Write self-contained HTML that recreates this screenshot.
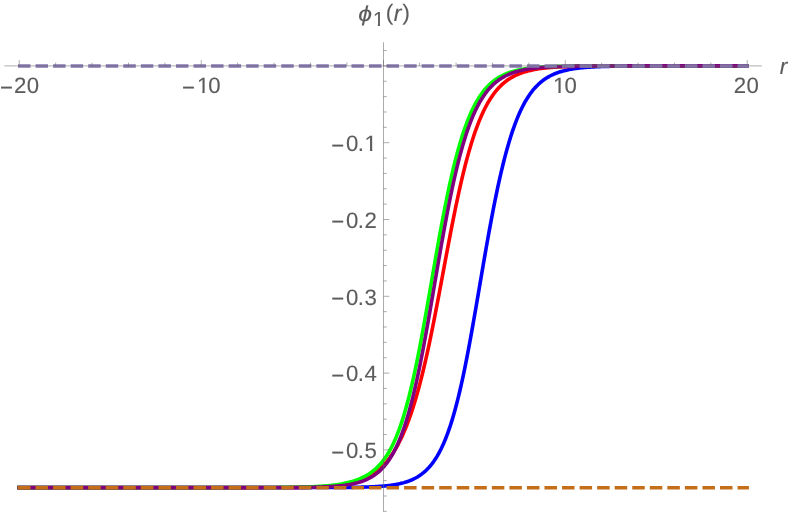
<!DOCTYPE html>
<html><head><meta charset="utf-8"><title>plot</title>
<style>
html,body{margin:0;padding:0;background:#fff;}
body{width:790px;height:514px;overflow:hidden;font-family:"Liberation Sans",sans-serif;}
svg{display:block;will-change:transform;}
text{text-rendering:geometricPrecision;}
</style></head><body>
<svg width="790" height="514" viewBox="0 0 790 514">
<rect width="790" height="514" fill="#fff"/>
<path d="M19.20,487.60 L64.44,487.60 L65.36,487.60 L66.29,487.60 L67.22,487.60 L68.14,487.60 L69.07,487.60 L69.99,487.60 L70.92,487.60 L71.84,487.60 L72.77,487.60 L73.69,487.60 L74.62,487.60 L75.54,487.60 L76.47,487.60 L77.39,487.60 L78.32,487.60 L79.24,487.60 L80.17,487.60 L81.10,487.60 L82.02,487.60 L82.95,487.60 L83.87,487.60 L84.80,487.60 L85.72,487.60 L86.65,487.60 L87.57,487.60 L88.50,487.60 L89.42,487.60 L90.35,487.60 L91.27,487.60 L92.20,487.60 L93.12,487.60 L94.05,487.60 L94.98,487.60 L95.90,487.60 L96.83,487.60 L97.75,487.60 L98.68,487.60 L99.60,487.60 L100.53,487.60 L101.45,487.60 L102.38,487.60 L103.30,487.60 L104.23,487.60 L105.15,487.60 L106.08,487.60 L107.00,487.60 L107.93,487.60 L108.86,487.60 L109.78,487.60 L110.71,487.60 L111.63,487.60 L112.56,487.60 L113.48,487.60 L114.41,487.60 L115.33,487.60 L116.26,487.60 L117.18,487.60 L118.11,487.60 L119.03,487.60 L119.96,487.60 L120.88,487.60 L121.81,487.60 L122.74,487.60 L123.66,487.60 L124.59,487.60 L125.51,487.60 L126.44,487.60 L127.36,487.60 L128.29,487.60 L129.21,487.60 L130.14,487.60 L131.06,487.60 L131.99,487.60 L132.91,487.60 L133.84,487.60 L134.76,487.60 L135.69,487.60 L136.62,487.60 L137.54,487.60 L138.47,487.60 L139.39,487.60 L140.32,487.60 L141.24,487.60 L142.17,487.60 L143.09,487.60 L144.02,487.60 L144.94,487.60 L145.87,487.60 L146.79,487.60 L147.72,487.60 L148.64,487.60 L149.57,487.60 L150.50,487.60 L151.42,487.60 L152.35,487.60 L153.27,487.60 L154.20,487.60 L155.12,487.60 L156.05,487.60 L156.97,487.60 L157.90,487.60 L158.82,487.60 L159.75,487.60 L160.67,487.60 L161.60,487.60 L162.52,487.60 L163.45,487.60 L164.38,487.60 L165.30,487.60 L166.23,487.60 L167.15,487.60 L168.08,487.60 L169.00,487.60 L169.93,487.60 L170.85,487.60 L171.78,487.60 L172.70,487.60 L173.63,487.60 L174.55,487.60 L175.48,487.60 L176.40,487.60 L177.33,487.60 L178.26,487.60 L179.18,487.60 L180.11,487.60 L181.03,487.60 L181.96,487.60 L182.88,487.60 L183.81,487.60 L184.73,487.60 L185.66,487.60 L186.58,487.60 L187.51,487.60 L188.43,487.60 L189.36,487.60 L190.28,487.60 L191.21,487.60 L192.14,487.60 L193.06,487.60 L193.99,487.60 L194.91,487.60 L195.84,487.60 L196.76,487.60 L197.69,487.60 L198.61,487.60 L199.54,487.60 L200.46,487.60 L201.39,487.60 L202.31,487.60 L203.24,487.60 L204.16,487.60 L205.09,487.60 L206.02,487.60 L206.94,487.60 L207.87,487.60 L208.79,487.60 L209.72,487.60 L210.64,487.60 L211.57,487.60 L212.49,487.60 L213.42,487.60 L214.34,487.60 L215.27,487.60 L216.19,487.60 L217.12,487.60 L218.04,487.60 L218.97,487.60 L219.90,487.60 L220.82,487.60 L221.75,487.60 L222.67,487.60 L223.60,487.60 L224.52,487.60 L225.45,487.60 L226.37,487.60 L227.30,487.60 L228.22,487.60 L229.15,487.60 L230.07,487.60 L231.00,487.60 L231.92,487.60 L232.85,487.60 L233.78,487.60 L234.70,487.60 L235.63,487.60 L236.55,487.60 L237.48,487.60 L238.40,487.60 L239.33,487.60 L240.25,487.60 L241.18,487.60 L242.10,487.60 L243.03,487.60 L243.95,487.60 L244.88,487.60 L245.80,487.60 L246.73,487.60 L247.66,487.60 L248.58,487.60 L249.51,487.60 L250.43,487.60 L251.36,487.60 L252.28,487.60 L253.21,487.60 L254.13,487.60 L255.06,487.60 L255.98,487.60 L256.91,487.60 L257.83,487.60 L258.76,487.60 L259.68,487.60 L260.61,487.60 L261.54,487.60 L262.46,487.60 L263.39,487.60 L264.31,487.60 L265.24,487.60 L266.16,487.60 L267.09,487.60 L268.01,487.60 L268.94,487.60 L269.86,487.60 L270.79,487.60 L271.71,487.60 L272.64,487.60 L273.56,487.60 L274.49,487.60 L275.42,487.60 L276.34,487.60 L277.27,487.60 L278.19,487.60 L279.12,487.60 L280.04,487.60 L280.97,487.60 L281.89,487.60 L282.82,487.60 L283.74,487.60 L284.67,487.59 L285.59,487.59 L286.52,487.59 L287.44,487.59 L288.37,487.59 L289.30,487.59 L290.22,487.59 L291.15,487.59 L292.07,487.59 L293.00,487.59 L293.92,487.59 L294.85,487.59 L295.77,487.59 L296.70,487.59 L297.62,487.59 L298.55,487.59 L299.47,487.59 L300.40,487.59 L301.32,487.59 L302.25,487.59 L303.18,487.58 L304.10,487.58 L305.03,487.58 L305.95,487.58 L306.88,487.58 L307.80,487.58 L308.73,487.58 L309.65,487.58 L310.58,487.58 L311.50,487.58 L312.43,487.57 L313.35,487.57 L314.28,487.57 L315.20,487.57 L316.13,487.57 L317.06,487.57 L317.98,487.56 L318.91,487.56 L319.83,487.56 L320.76,487.56 L321.68,487.56 L322.61,487.55 L323.53,487.55 L324.46,487.55 L325.38,487.55 L326.31,487.54 L327.23,487.54 L328.16,487.54 L329.08,487.53 L330.01,487.53 L330.94,487.53 L331.86,487.52 L332.79,487.52 L333.71,487.51 L334.64,487.51 L335.56,487.50 L336.49,487.50 L337.41,487.49 L338.34,487.49 L339.26,487.48 L340.19,487.47 L341.11,487.47 L342.04,487.46 L342.96,487.45 L343.89,487.44 L344.82,487.43 L345.74,487.42 L346.67,487.42 L347.59,487.41 L348.52,487.39 L349.44,487.38 L350.37,487.37 L351.29,487.36 L352.22,487.35 L353.14,487.33 L354.07,487.32 L354.99,487.30 L355.92,487.29 L356.84,487.27 L357.77,487.25 L358.70,487.23 L359.62,487.21 L360.55,487.19 L361.47,487.17 L362.40,487.14 L363.32,487.12 L364.25,487.09 L365.17,487.06 L366.10,487.03 L367.02,487.00 L367.95,486.97 L368.87,486.94 L369.80,486.90 L370.72,486.86 L371.65,486.82 L372.58,486.78 L373.50,486.73 L374.43,486.69 L375.35,486.64 L376.28,486.58 L377.20,486.53 L378.13,486.47 L379.05,486.41 L379.98,486.34 L380.90,486.28 L381.83,486.20 L382.75,486.13 L383.68,486.05 L384.60,485.96 L385.53,485.87 L386.46,485.78 L387.38,485.68 L388.31,485.57 L389.23,485.46 L390.16,485.35 L391.08,485.22 L392.01,485.09 L392.93,484.96 L393.86,484.81 L394.78,484.66 L395.71,484.50 L396.63,484.34 L397.56,484.16 L398.48,483.97 L399.41,483.77 L400.34,483.57 L401.26,483.35 L402.19,483.12 L403.11,482.87 L404.04,482.62 L404.96,482.35 L405.89,482.07 L406.81,481.77 L407.74,481.45 L408.66,481.12 L409.59,480.77 L410.51,480.40 L411.44,480.02 L412.36,479.61 L413.29,479.18 L414.22,478.73 L415.14,478.25 L416.07,477.75 L416.99,477.23 L417.92,476.67 L418.84,476.09 L419.77,475.48 L420.69,474.83 L421.62,474.16 L422.54,473.44 L423.47,472.70 L424.39,471.91 L425.32,471.08 L426.25,470.22 L427.17,469.31 L428.10,468.35 L429.02,467.34 L429.95,466.29 L430.87,465.19 L431.80,464.03 L432.72,462.81 L433.65,461.54 L434.57,460.20 L435.50,458.80 L436.42,457.34 L437.35,455.81 L438.28,454.20 L439.20,452.53 L440.13,450.77 L441.05,448.94 L441.98,447.03 L442.90,445.03 L443.83,442.94 L444.75,440.77 L445.68,438.50 L446.61,436.14 L447.53,433.68 L448.46,431.12 L449.38,428.46 L450.31,425.70 L451.24,422.83 L452.16,419.85 L453.09,416.76 L454.02,413.56 L454.94,410.25 L455.87,406.83 L456.80,403.29 L457.72,399.63 L458.65,395.86 L459.58,391.97 L460.51,387.97 L461.44,383.86 L462.37,379.63 L463.30,375.29 L464.23,370.84 L465.16,366.28 L466.09,361.62 L467.03,356.86 L467.96,352.00 L468.89,347.05 L469.83,342.01 L470.77,336.88 L471.71,331.68 L472.65,326.40 L473.59,321.06 L474.53,315.66 L475.48,310.20 L476.43,304.70 L477.38,299.16 L478.33,293.58 L479.28,287.98 L480.24,282.37 L481.20,276.75 L482.16,271.13 L483.12,265.52 L484.09,259.92 L485.06,254.34 L486.03,248.80 L487.00,243.30 L487.97,237.84 L488.95,232.44 L489.93,227.10 L490.91,221.82 L491.89,216.62 L492.87,211.49 L493.85,206.45 L494.84,201.50 L495.83,196.64 L496.81,191.88 L497.80,187.22 L498.79,182.66 L499.78,178.21 L500.77,173.87 L501.76,169.64 L502.75,165.53 L503.74,161.53 L504.73,157.64 L505.72,153.87 L506.72,150.21 L507.71,146.67 L508.70,143.25 L509.70,139.94 L510.69,136.74 L511.68,133.65 L512.68,130.67 L513.67,127.80 L514.66,125.04 L515.66,122.38 L516.65,119.82 L517.65,117.36 L518.64,115.00 L519.63,112.73 L520.63,110.56 L521.62,108.47 L522.62,106.47 L523.61,104.56 L524.61,102.73 L525.60,100.97 L526.60,99.30 L527.59,97.69 L528.58,96.16 L529.58,94.70 L530.57,93.30 L531.57,91.96 L532.56,90.69 L533.56,89.47 L534.55,88.31 L535.55,87.21 L536.54,86.16 L537.54,85.15 L538.53,84.19 L539.53,83.28 L540.52,82.42 L541.51,81.59 L542.51,80.80 L543.50,80.06 L544.50,79.34 L545.49,78.67 L546.49,78.02 L547.48,77.41 L548.48,76.83 L549.47,76.27 L550.47,75.75 L551.46,75.25 L552.46,74.77 L553.45,74.32 L554.44,73.89 L555.44,73.48 L556.43,73.10 L557.43,72.73 L558.42,72.38 L559.42,72.05 L560.41,71.73 L561.41,71.43 L562.40,71.15 L563.40,70.88 L564.39,70.63 L565.39,70.38 L566.38,70.15 L567.38,69.93 L568.37,69.73 L569.36,69.53 L570.36,69.34 L571.35,69.16 L572.35,69.00 L573.34,68.84 L574.34,68.69 L575.33,68.54 L576.33,68.41 L577.32,68.28 L578.32,68.15 L579.31,68.04 L580.31,67.93 L581.30,67.82 L582.30,67.72 L583.29,67.63 L584.28,67.54 L585.28,67.45 L586.27,67.37 L587.27,67.30 L588.26,67.22 L589.26,67.16 L590.25,67.09 L591.25,67.03 L592.24,66.97 L593.24,66.92 L594.23,66.86 L595.23,66.81 L596.22,66.77 L597.22,66.72 L598.21,66.68 L599.20,66.64 L600.20,66.60 L601.19,66.56 L602.19,66.53 L603.18,66.50 L604.18,66.47 L605.17,66.44 L606.17,66.41 L607.16,66.38 L608.16,66.36 L609.15,66.33 L610.15,66.31 L611.14,66.29 L612.14,66.27 L613.13,66.25 L614.12,66.23 L615.12,66.21 L616.11,66.20 L617.11,66.18 L618.10,66.17 L619.10,66.15 L620.09,66.14 L621.09,66.13 L622.08,66.12 L623.08,66.11 L624.07,66.09 L625.07,66.08 L626.06,66.08 L627.06,66.07 L628.05,66.06 L629.04,66.05 L630.04,66.04 L631.03,66.03 L632.03,66.03 L633.02,66.02 L634.02,66.01 L635.01,66.01 L636.01,66.00 L637.00,66.00 L638.00,65.99 L638.99,65.99 L639.99,65.98 L640.98,65.98 L641.98,65.97 L642.97,65.97 L643.96,65.97 L644.96,65.96 L645.95,65.96 L646.95,65.96 L647.94,65.95 L648.94,65.95 L649.93,65.95 L650.93,65.95 L651.92,65.94 L652.92,65.94 L653.91,65.94 L654.91,65.94 L655.90,65.94 L656.90,65.93 L657.89,65.93 L658.88,65.93 L659.88,65.93 L660.87,65.93 L661.87,65.93 L662.86,65.92 L663.86,65.92 L664.85,65.92 L665.85,65.92 L666.84,65.92 L667.84,65.92 L668.83,65.92 L669.83,65.92 L670.82,65.92 L671.82,65.92 L672.81,65.91 L673.80,65.91 L674.80,65.91 L675.79,65.91 L676.79,65.91 L677.78,65.91 L678.78,65.91 L679.77,65.91 L680.77,65.91 L681.76,65.91 L682.76,65.91 L683.75,65.91 L684.75,65.91 L685.74,65.91 L686.74,65.91 L687.73,65.91 L688.72,65.91 L689.72,65.91 L690.71,65.91 L691.71,65.91 L692.70,65.90 L693.70,65.90 L694.69,65.90 L695.69,65.90 L696.68,65.90 L697.68,65.90 L698.67,65.90 L699.67,65.90 L700.66,65.90 L701.66,65.90 L702.65,65.90 L703.64,65.90 L704.64,65.90 L705.63,65.90 L706.63,65.90 L707.62,65.90 L708.62,65.90 L709.61,65.90 L710.61,65.90 L711.60,65.90 L712.60,65.90 L713.59,65.90 L714.59,65.90 L715.58,65.90 L716.58,65.90 L717.57,65.90 L718.56,65.90 L719.56,65.90 L720.55,65.90 L721.55,65.90 L722.54,65.90 L723.54,65.90 L724.53,65.90 L725.53,65.90 L726.52,65.90 L727.52,65.90 L728.51,65.90 L729.51,65.90 L730.50,65.90 L731.50,65.90 L732.49,65.90 L733.48,65.90 L734.48,65.90 L735.47,65.90 L736.47,65.90 L737.46,65.90 L738.46,65.90 L739.45,65.90 L740.45,65.90 L741.44,65.90 L742.44,65.90 L743.43,65.90 L744.43,65.90 L745.42,65.90 L746.42,65.90 L747.20,65.90" fill="none" stroke="#0000ff" stroke-width="3.6" stroke-linecap="square" stroke-linejoin="round"/>
<path d="M19.20,487.60 L19.29,487.60 L20.30,487.60 L21.32,487.60 L22.33,487.60 L23.34,487.60 L24.36,487.60 L25.37,487.60 L26.38,487.60 L27.40,487.60 L28.41,487.60 L29.42,487.60 L30.44,487.60 L31.45,487.60 L32.46,487.60 L33.48,487.60 L34.49,487.60 L35.50,487.60 L36.52,487.60 L37.53,487.60 L38.54,487.60 L39.56,487.60 L40.57,487.60 L41.58,487.60 L42.60,487.60 L43.61,487.60 L44.62,487.60 L45.64,487.60 L46.65,487.60 L47.66,487.60 L48.68,487.60 L49.69,487.60 L50.70,487.60 L51.72,487.60 L52.73,487.60 L53.74,487.60 L54.76,487.60 L55.77,487.60 L56.78,487.60 L57.80,487.60 L58.81,487.60 L59.82,487.60 L60.84,487.60 L61.85,487.60 L62.86,487.60 L63.88,487.60 L64.89,487.60 L65.90,487.60 L66.92,487.60 L67.93,487.60 L68.94,487.60 L69.96,487.60 L70.97,487.60 L71.98,487.60 L73.00,487.60 L74.01,487.60 L75.02,487.60 L76.04,487.60 L77.05,487.60 L78.06,487.60 L79.08,487.60 L80.09,487.60 L81.10,487.60 L82.12,487.60 L83.13,487.60 L84.14,487.60 L85.16,487.60 L86.17,487.60 L87.18,487.60 L88.20,487.60 L89.21,487.60 L90.22,487.60 L91.24,487.60 L92.25,487.60 L93.26,487.60 L94.28,487.60 L95.29,487.60 L96.30,487.60 L97.32,487.60 L98.33,487.60 L99.34,487.60 L100.36,487.60 L101.37,487.60 L102.38,487.60 L103.40,487.60 L104.41,487.60 L105.42,487.60 L106.44,487.60 L107.45,487.60 L108.46,487.60 L109.48,487.60 L110.49,487.60 L111.50,487.60 L112.52,487.60 L113.53,487.60 L114.54,487.60 L115.56,487.60 L116.57,487.60 L117.58,487.60 L118.60,487.60 L119.61,487.60 L120.62,487.60 L121.64,487.60 L122.65,487.60 L123.66,487.60 L124.68,487.60 L125.69,487.60 L126.70,487.60 L127.72,487.60 L128.73,487.60 L129.74,487.60 L130.76,487.60 L131.77,487.60 L132.78,487.60 L133.80,487.60 L134.81,487.60 L135.82,487.60 L136.84,487.60 L137.85,487.60 L138.86,487.60 L139.88,487.60 L140.89,487.60 L141.90,487.60 L142.92,487.60 L143.93,487.60 L144.94,487.60 L145.96,487.60 L146.97,487.60 L147.98,487.60 L149.00,487.60 L150.01,487.60 L151.02,487.60 L152.04,487.60 L153.05,487.60 L154.06,487.60 L155.08,487.60 L156.09,487.60 L157.10,487.60 L158.12,487.60 L159.13,487.60 L160.14,487.60 L161.16,487.60 L162.17,487.60 L163.18,487.60 L164.20,487.60 L165.21,487.60 L166.22,487.60 L167.24,487.60 L168.25,487.60 L169.26,487.60 L170.28,487.60 L171.29,487.60 L172.30,487.60 L173.32,487.60 L174.33,487.60 L175.34,487.60 L176.36,487.60 L177.37,487.60 L178.38,487.60 L179.40,487.60 L180.41,487.60 L181.42,487.60 L182.44,487.60 L183.45,487.60 L184.46,487.60 L185.48,487.60 L186.49,487.60 L187.50,487.60 L188.52,487.60 L189.53,487.60 L190.54,487.60 L191.56,487.60 L192.57,487.60 L193.58,487.60 L194.60,487.60 L195.61,487.60 L196.62,487.60 L197.64,487.60 L198.65,487.60 L199.66,487.60 L200.68,487.60 L201.69,487.60 L202.70,487.60 L203.72,487.60 L204.73,487.60 L205.74,487.60 L206.76,487.60 L207.77,487.60 L208.78,487.60 L209.80,487.60 L210.81,487.60 L211.82,487.60 L212.84,487.60 L213.85,487.60 L214.86,487.60 L215.88,487.60 L216.89,487.60 L217.90,487.60 L218.92,487.60 L219.93,487.60 L220.94,487.60 L221.96,487.60 L222.97,487.59 L223.98,487.59 L225.00,487.59 L226.01,487.59 L227.02,487.59 L228.04,487.59 L229.05,487.59 L230.06,487.59 L231.08,487.59 L232.09,487.59 L233.10,487.59 L234.12,487.59 L235.13,487.59 L236.14,487.59 L237.16,487.59 L238.17,487.59 L239.18,487.59 L240.20,487.59 L241.21,487.59 L242.22,487.59 L243.24,487.58 L244.25,487.58 L245.26,487.58 L246.28,487.58 L247.29,487.58 L248.30,487.58 L249.32,487.58 L250.33,487.58 L251.34,487.58 L252.36,487.58 L253.37,487.57 L254.38,487.57 L255.40,487.57 L256.41,487.57 L257.42,487.57 L258.44,487.57 L259.45,487.56 L260.46,487.56 L261.48,487.56 L262.49,487.56 L263.50,487.56 L264.52,487.55 L265.53,487.55 L266.54,487.55 L267.56,487.55 L268.57,487.54 L269.58,487.54 L270.60,487.54 L271.61,487.53 L272.62,487.53 L273.64,487.53 L274.65,487.52 L275.66,487.52 L276.68,487.51 L277.69,487.51 L278.70,487.50 L279.72,487.50 L280.73,487.49 L281.74,487.49 L282.76,487.48 L283.77,487.47 L284.78,487.47 L285.80,487.46 L286.81,487.45 L287.82,487.44 L288.84,487.43 L289.85,487.42 L290.86,487.42 L291.88,487.41 L292.89,487.39 L293.90,487.38 L294.92,487.37 L295.93,487.36 L296.94,487.35 L297.96,487.33 L298.97,487.32 L299.98,487.30 L301.00,487.29 L302.01,487.27 L303.02,487.25 L304.04,487.23 L305.05,487.21 L306.06,487.19 L307.08,487.17 L308.09,487.14 L309.10,487.12 L310.12,487.09 L311.13,487.06 L312.14,487.03 L313.16,487.00 L314.17,486.97 L315.18,486.94 L316.20,486.90 L317.21,486.86 L318.22,486.82 L319.24,486.78 L320.25,486.73 L321.26,486.69 L322.28,486.64 L323.29,486.58 L324.30,486.53 L325.32,486.47 L326.33,486.41 L327.34,486.34 L328.36,486.28 L329.37,486.20 L330.39,486.13 L331.40,486.05 L332.41,485.96 L333.43,485.87 L334.44,485.78 L335.45,485.68 L336.47,485.57 L337.48,485.46 L338.50,485.35 L339.51,485.22 L340.52,485.09 L341.54,484.96 L342.55,484.81 L343.57,484.66 L344.58,484.50 L345.60,484.34 L346.61,484.16 L347.63,483.97 L348.64,483.77 L349.66,483.57 L350.67,483.35 L351.69,483.12 L352.70,482.87 L353.72,482.62 L354.74,482.35 L355.76,482.07 L356.77,481.77 L357.79,481.45 L358.81,481.12 L359.83,480.77 L360.85,480.40 L361.87,480.02 L362.89,479.61 L363.91,479.18 L364.94,478.73 L365.96,478.25 L366.99,477.75 L368.01,477.23 L369.04,476.67 L370.07,476.09 L371.10,475.48 L372.14,474.83 L373.17,474.16 L374.21,473.44 L375.25,472.70 L376.29,471.91 L377.33,471.08 L378.38,470.22 L379.43,469.31 L380.48,468.35 L381.53,467.34 L382.59,466.29 L383.65,465.19 L384.71,464.03 L385.78,462.81 L386.85,461.54 L387.92,460.20 L389.00,458.80 L390.08,457.34 L391.16,455.81 L392.25,454.20 L393.34,452.53 L394.43,450.77 L395.53,448.94 L396.62,447.03 L397.72,445.03 L398.83,442.94 L399.93,440.77 L401.04,438.50 L402.15,436.14 L403.25,433.68 L404.36,431.12 L405.47,428.46 L406.59,425.70 L407.70,422.83 L408.81,419.85 L409.92,416.76 L411.03,413.56 L412.14,410.25 L413.24,406.83 L414.35,403.29 L415.45,399.63 L416.56,395.86 L417.66,391.97 L418.76,387.97 L419.85,383.86 L420.95,379.63 L422.04,375.29 L423.12,370.84 L424.21,366.28 L425.29,361.62 L426.37,356.86 L427.45,352.00 L428.53,347.05 L429.60,342.01 L430.67,336.88 L431.74,331.68 L432.80,326.40 L433.86,321.06 L434.93,315.66 L435.98,310.20 L437.04,304.70 L438.10,299.16 L439.15,293.58 L440.20,287.98 L441.25,282.37 L442.30,276.75 L443.35,271.13 L444.39,265.52 L445.44,259.92 L446.48,254.34 L447.53,248.80 L448.57,243.30 L449.61,237.84 L450.65,232.44 L451.69,227.10 L452.73,221.82 L453.77,216.62 L454.81,211.49 L455.85,206.45 L456.89,201.50 L457.93,196.64 L458.96,191.88 L460.00,187.22 L461.04,182.66 L462.08,178.21 L463.11,173.87 L464.15,169.64 L465.18,165.53 L466.22,161.53 L467.26,157.64 L468.29,153.87 L469.33,150.21 L470.36,146.67 L471.40,143.25 L472.43,139.94 L473.47,136.74 L474.50,133.65 L475.54,130.67 L476.58,127.80 L477.61,125.04 L478.65,122.38 L479.68,119.82 L480.72,117.36 L481.75,115.00 L482.79,112.73 L483.82,110.56 L484.86,108.47 L485.89,106.47 L486.92,104.56 L487.96,102.73 L488.99,100.97 L490.03,99.30 L491.06,97.69 L492.10,96.16 L493.13,94.70 L494.17,93.30 L495.20,91.96 L496.24,90.69 L497.27,89.47 L498.31,88.31 L499.34,87.21 L500.38,86.16 L501.41,85.15 L502.45,84.19 L503.48,83.28 L504.52,82.42 L505.55,81.59 L506.58,80.80 L507.62,80.06 L508.65,79.34 L509.69,78.67 L510.72,78.02 L511.76,77.41 L512.79,76.83 L513.83,76.27 L514.86,75.75 L515.90,75.25 L516.93,74.77 L517.97,74.32 L519.00,73.89 L520.04,73.48 L521.07,73.10 L522.10,72.73 L523.14,72.38 L524.17,72.05 L525.21,71.73 L526.24,71.43 L527.28,71.15 L528.31,70.88 L529.35,70.63 L530.38,70.38 L531.42,70.15 L532.45,69.93 L533.49,69.73 L534.52,69.53 L535.56,69.34 L536.59,69.16 L537.62,69.00 L538.66,68.84 L539.69,68.69 L540.73,68.54 L541.76,68.41 L542.80,68.28 L543.83,68.15 L544.87,68.04 L545.90,67.93 L546.94,67.82 L547.97,67.72 L549.01,67.63 L550.04,67.54 L551.08,67.45 L552.11,67.37 L553.14,67.30 L554.18,67.22 L555.21,67.16 L556.25,67.09 L557.28,67.03 L558.32,66.97 L559.35,66.92 L560.39,66.86 L561.42,66.81 L562.46,66.77 L563.49,66.72 L564.53,66.68 L565.56,66.64 L566.60,66.60 L567.63,66.56 L568.66,66.53 L569.70,66.50 L570.73,66.47 L571.77,66.44 L572.80,66.41 L573.84,66.38 L574.87,66.36 L575.91,66.33 L576.94,66.31 L577.98,66.29 L579.01,66.27 L580.05,66.25 L581.08,66.23 L582.12,66.21 L583.15,66.20 L584.18,66.18 L585.22,66.17 L586.25,66.15 L587.29,66.14 L588.32,66.13 L589.36,66.12 L590.39,66.11 L591.43,66.09 L592.46,66.08 L593.50,66.08 L594.53,66.07 L595.57,66.06 L596.60,66.05 L597.64,66.04 L598.67,66.03 L599.70,66.03 L600.74,66.02 L601.77,66.01 L602.81,66.01 L603.84,66.00 L604.88,66.00 L605.91,65.99 L606.95,65.99 L607.98,65.98 L609.02,65.98 L610.05,65.97 L611.09,65.97 L612.12,65.97 L613.16,65.96 L614.19,65.96 L615.22,65.96 L616.26,65.95 L617.29,65.95 L618.33,65.95 L619.36,65.95 L620.40,65.94 L621.43,65.94 L622.47,65.94 L623.50,65.94 L624.54,65.94 L625.57,65.93 L626.61,65.93 L627.64,65.93 L628.68,65.93 L629.71,65.93 L630.74,65.93 L631.78,65.92 L632.81,65.92 L633.85,65.92 L634.88,65.92 L635.92,65.92 L636.95,65.92 L637.99,65.92 L639.02,65.92 L640.06,65.92 L641.09,65.92 L642.13,65.91 L643.16,65.91 L644.20,65.91 L645.23,65.91 L646.26,65.91 L647.30,65.91 L648.33,65.91 L649.37,65.91 L650.40,65.91 L651.44,65.91 L652.47,65.91 L653.51,65.91 L654.54,65.91 L655.58,65.91 L656.61,65.91 L657.65,65.91 L658.68,65.91 L659.72,65.91 L660.75,65.91 L661.78,65.91 L662.82,65.90 L663.85,65.90 L664.89,65.90 L665.92,65.90 L666.96,65.90 L667.99,65.90 L669.03,65.90 L670.06,65.90 L671.10,65.90 L672.13,65.90 L673.17,65.90 L674.20,65.90 L675.24,65.90 L676.27,65.90 L677.30,65.90 L678.34,65.90 L679.37,65.90 L680.41,65.90 L681.44,65.90 L682.48,65.90 L683.51,65.90 L684.55,65.90 L685.58,65.90 L686.62,65.90 L687.65,65.90 L688.69,65.90 L689.72,65.90 L690.76,65.90 L691.79,65.90 L692.82,65.90 L693.86,65.90 L694.89,65.90 L695.93,65.90 L696.96,65.90 L698.00,65.90 L699.03,65.90 L700.07,65.90 L701.10,65.90 L702.14,65.90 L703.17,65.90 L704.21,65.90 L705.24,65.90 L706.28,65.90 L707.31,65.90 L708.34,65.90 L709.38,65.90 L710.41,65.90 L711.45,65.90 L712.48,65.90 L713.52,65.90 L714.55,65.90 L715.59,65.90 L716.62,65.90 L717.66,65.90 L718.69,65.90 L719.73,65.90 L720.76,65.90 L721.80,65.90 L722.83,65.90 L723.86,65.90 L724.90,65.90 L725.93,65.90 L726.97,65.90 L728.00,65.90 L729.04,65.90 L730.07,65.90 L731.11,65.90 L732.14,65.90 L733.18,65.90 L734.21,65.90 L735.25,65.90 L736.28,65.90 L737.32,65.90 L738.35,65.90 L739.38,65.90 L740.42,65.90 L741.45,65.90 L742.49,65.90 L743.52,65.90 L744.56,65.90 L745.59,65.90 L746.63,65.90 L747.20,65.90" fill="none" stroke="#ff0000" stroke-width="3.6" stroke-linecap="square" stroke-linejoin="round"/>
<path d="M19.20,487.60 L19.90,487.60 L20.99,487.60 L22.08,487.60 L23.18,487.60 L24.27,487.60 L25.36,487.60 L26.46,487.60 L27.55,487.60 L28.64,487.60 L29.74,487.60 L30.83,487.60 L31.92,487.60 L33.02,487.60 L34.11,487.60 L35.20,487.60 L36.30,487.60 L37.39,487.60 L38.48,487.60 L39.58,487.60 L40.67,487.60 L41.76,487.60 L42.86,487.60 L43.95,487.60 L45.04,487.60 L46.14,487.60 L47.23,487.60 L48.32,487.60 L49.42,487.60 L50.51,487.60 L51.60,487.60 L52.70,487.60 L53.79,487.60 L54.88,487.60 L55.98,487.60 L57.07,487.60 L58.16,487.60 L59.26,487.60 L60.35,487.60 L61.44,487.60 L62.54,487.60 L63.63,487.60 L64.72,487.60 L65.82,487.60 L66.91,487.60 L68.00,487.60 L69.10,487.60 L70.19,487.60 L71.28,487.60 L72.38,487.60 L73.47,487.60 L74.56,487.60 L75.66,487.60 L76.75,487.60 L77.84,487.60 L78.94,487.60 L80.03,487.60 L81.12,487.60 L82.22,487.60 L83.31,487.60 L84.40,487.60 L85.50,487.60 L86.59,487.60 L87.68,487.60 L88.78,487.60 L89.87,487.60 L90.96,487.60 L92.06,487.60 L93.15,487.60 L94.24,487.60 L95.34,487.60 L96.43,487.60 L97.52,487.60 L98.62,487.60 L99.71,487.60 L100.80,487.60 L101.90,487.60 L102.99,487.60 L104.08,487.60 L105.18,487.60 L106.27,487.60 L107.36,487.60 L108.46,487.60 L109.55,487.60 L110.64,487.60 L111.74,487.60 L112.83,487.60 L113.92,487.60 L115.02,487.60 L116.11,487.60 L117.20,487.60 L118.30,487.60 L119.39,487.60 L120.48,487.60 L121.58,487.60 L122.67,487.60 L123.76,487.60 L124.86,487.60 L125.95,487.60 L127.04,487.60 L128.14,487.60 L129.23,487.60 L130.32,487.60 L131.42,487.60 L132.51,487.60 L133.60,487.60 L134.70,487.60 L135.79,487.60 L136.88,487.60 L137.98,487.60 L139.07,487.60 L140.16,487.60 L141.26,487.60 L142.35,487.60 L143.44,487.60 L144.54,487.60 L145.63,487.60 L146.72,487.60 L147.82,487.60 L148.91,487.60 L150.00,487.60 L151.10,487.60 L152.19,487.60 L153.28,487.60 L154.38,487.60 L155.47,487.60 L156.56,487.60 L157.66,487.60 L158.75,487.60 L159.84,487.60 L160.94,487.60 L162.03,487.60 L163.12,487.60 L164.22,487.60 L165.31,487.60 L166.40,487.60 L167.50,487.60 L168.59,487.60 L169.68,487.60 L170.78,487.60 L171.87,487.60 L172.96,487.60 L174.06,487.60 L175.15,487.60 L176.24,487.60 L177.34,487.60 L178.43,487.60 L179.52,487.60 L180.62,487.60 L181.71,487.60 L182.80,487.60 L183.90,487.60 L184.99,487.60 L186.08,487.60 L187.18,487.60 L188.27,487.60 L189.36,487.60 L190.46,487.60 L191.55,487.60 L192.64,487.60 L193.74,487.60 L194.83,487.60 L195.92,487.60 L197.02,487.60 L198.11,487.60 L199.20,487.60 L200.30,487.60 L201.39,487.60 L202.48,487.60 L203.58,487.60 L204.67,487.60 L205.76,487.60 L206.86,487.59 L207.95,487.59 L209.04,487.59 L210.14,487.59 L211.23,487.59 L212.32,487.59 L213.42,487.59 L214.51,487.59 L215.60,487.59 L216.70,487.59 L217.79,487.59 L218.88,487.59 L219.98,487.59 L221.07,487.59 L222.16,487.59 L223.26,487.59 L224.35,487.59 L225.44,487.59 L226.54,487.59 L227.63,487.59 L228.72,487.58 L229.82,487.58 L230.91,487.58 L232.00,487.58 L233.10,487.58 L234.19,487.58 L235.28,487.58 L236.38,487.58 L237.47,487.58 L238.56,487.58 L239.66,487.57 L240.75,487.57 L241.84,487.57 L242.94,487.57 L244.03,487.57 L245.12,487.57 L246.22,487.56 L247.31,487.56 L248.40,487.56 L249.50,487.56 L250.59,487.56 L251.68,487.55 L252.78,487.55 L253.87,487.55 L254.96,487.55 L256.06,487.54 L257.15,487.54 L258.24,487.54 L259.34,487.53 L260.43,487.53 L261.52,487.53 L262.62,487.52 L263.71,487.52 L264.80,487.51 L265.90,487.51 L266.99,487.50 L268.08,487.50 L269.18,487.49 L270.27,487.49 L271.36,487.48 L272.46,487.47 L273.55,487.47 L274.64,487.46 L275.74,487.45 L276.83,487.44 L277.92,487.43 L279.02,487.42 L280.11,487.42 L281.20,487.41 L282.30,487.39 L283.39,487.38 L284.48,487.37 L285.58,487.36 L286.67,487.35 L287.76,487.33 L288.86,487.32 L289.95,487.30 L291.04,487.29 L292.14,487.27 L293.23,487.25 L294.32,487.23 L295.42,487.21 L296.51,487.19 L297.60,487.17 L298.70,487.14 L299.79,487.12 L300.88,487.09 L301.98,487.06 L303.07,487.03 L304.16,487.00 L305.26,486.97 L306.35,486.94 L307.44,486.90 L308.54,486.86 L309.63,486.82 L310.72,486.78 L311.82,486.73 L312.91,486.69 L314.00,486.64 L315.10,486.58 L316.19,486.53 L317.28,486.47 L318.38,486.41 L319.47,486.34 L320.56,486.28 L321.66,486.20 L322.75,486.13 L323.84,486.05 L324.94,485.96 L326.03,485.87 L327.12,485.78 L328.22,485.68 L329.31,485.57 L330.40,485.46 L331.50,485.35 L332.59,485.22 L333.68,485.09 L334.78,484.96 L335.87,484.81 L336.96,484.66 L338.05,484.50 L339.15,484.34 L340.24,484.16 L341.33,483.97 L342.43,483.77 L343.52,483.57 L344.61,483.35 L345.70,483.12 L346.80,482.87 L347.89,482.62 L348.98,482.35 L350.07,482.07 L351.16,481.77 L352.26,481.45 L353.35,481.12 L354.44,480.77 L355.53,480.40 L356.62,480.02 L357.71,479.61 L358.80,479.18 L359.89,478.73 L360.98,478.25 L362.06,477.75 L363.15,477.23 L364.24,476.67 L365.32,476.09 L366.41,475.48 L367.49,474.83 L368.57,474.16 L369.65,473.44 L370.73,472.70 L371.80,471.91 L372.88,471.08 L373.95,470.22 L375.02,469.31 L376.08,468.35 L377.15,467.34 L378.21,466.29 L379.26,465.19 L380.32,464.03 L381.37,462.81 L382.41,461.54 L383.45,460.20 L384.49,458.80 L385.52,457.34 L386.55,455.81 L387.57,454.20 L388.59,452.53 L389.60,450.77 L390.61,448.94 L391.61,447.03 L392.61,445.03 L393.61,442.94 L394.60,440.77 L395.59,438.50 L396.58,436.14 L397.56,433.68 L398.54,431.12 L399.52,428.46 L400.49,425.70 L401.46,422.83 L402.44,419.85 L403.41,416.76 L404.37,413.56 L405.34,410.25 L406.31,406.83 L407.27,403.29 L408.23,399.63 L409.20,395.86 L410.16,391.97 L411.12,387.97 L412.08,383.86 L413.04,379.63 L414.00,375.29 L414.96,370.84 L415.93,366.28 L416.89,361.62 L417.85,356.86 L418.81,352.00 L419.77,347.05 L420.73,342.01 L421.70,336.88 L422.66,331.68 L423.62,326.40 L424.59,321.06 L425.56,315.66 L426.52,310.20 L427.49,304.70 L428.46,299.16 L429.43,293.58 L430.40,287.98 L431.38,282.37 L432.35,276.75 L433.33,271.13 L434.30,265.52 L435.28,259.92 L436.26,254.34 L437.24,248.80 L438.22,243.30 L439.21,237.84 L440.19,232.44 L441.17,227.10 L442.16,221.82 L443.15,216.62 L444.13,211.49 L445.12,206.45 L446.11,201.50 L447.10,196.64 L448.09,191.88 L449.08,187.22 L450.07,182.66 L451.07,178.21 L452.06,173.87 L453.05,169.64 L454.04,165.53 L455.03,161.53 L456.03,157.64 L457.02,153.87 L458.01,150.21 L459.01,146.67 L460.00,143.25 L461.00,139.94 L461.99,136.74 L462.98,133.65 L463.98,130.67 L464.97,127.80 L465.97,125.04 L466.96,122.38 L467.95,119.82 L468.95,117.36 L469.94,115.00 L470.94,112.73 L471.93,110.56 L472.93,108.47 L473.92,106.47 L474.92,104.56 L475.91,102.73 L476.90,100.97 L477.90,99.30 L478.89,97.69 L479.89,96.16 L480.88,94.70 L481.88,93.30 L482.87,91.96 L483.87,90.69 L484.86,89.47 L485.86,88.31 L486.85,87.21 L487.85,86.16 L488.84,85.15 L489.83,84.19 L490.83,83.28 L491.82,82.42 L492.82,81.59 L493.81,80.80 L494.81,80.06 L495.80,79.34 L496.80,78.67 L497.79,78.02 L498.79,77.41 L499.78,76.83 L500.78,76.27 L501.77,75.75 L502.77,75.25 L503.76,74.77 L504.75,74.32 L505.75,73.89 L506.74,73.48 L507.74,73.10 L508.73,72.73 L509.73,72.38 L510.72,72.05 L511.72,71.73 L512.71,71.43 L513.71,71.15 L514.70,70.88 L515.70,70.63 L516.69,70.38 L517.69,70.15 L518.68,69.93 L519.67,69.73 L520.67,69.53 L521.66,69.34 L522.66,69.16 L523.65,69.00 L524.65,68.84 L525.64,68.69 L526.64,68.54 L527.63,68.41 L528.63,68.28 L529.62,68.15 L530.62,68.04 L531.61,67.93 L532.61,67.82 L533.60,67.72 L534.59,67.63 L535.59,67.54 L536.58,67.45 L537.58,67.37 L538.57,67.30 L539.57,67.22 L540.56,67.16 L541.56,67.09 L542.55,67.03 L543.55,66.97 L544.54,66.92 L545.54,66.86 L546.53,66.81 L547.53,66.77 L548.52,66.72 L549.51,66.68 L550.51,66.64 L551.50,66.60 L552.50,66.56 L553.49,66.53 L554.49,66.50 L555.48,66.47 L556.48,66.44 L557.47,66.41 L558.47,66.38 L559.46,66.36 L560.46,66.33 L561.45,66.31 L562.45,66.29 L563.44,66.27 L564.43,66.25 L565.43,66.23 L566.42,66.21 L567.42,66.20 L568.41,66.18 L569.41,66.17 L570.40,66.15 L571.40,66.14 L572.39,66.13 L573.39,66.12 L574.38,66.11 L575.38,66.09 L576.37,66.08 L577.37,66.08 L578.36,66.07 L579.35,66.06 L580.35,66.05 L581.34,66.04 L582.34,66.03 L583.33,66.03 L584.33,66.02 L585.32,66.01 L586.32,66.01 L587.31,66.00 L588.31,66.00 L589.30,65.99 L590.30,65.99 L591.29,65.98 L592.29,65.98 L593.28,65.97 L594.27,65.97 L595.27,65.97 L596.26,65.96 L597.26,65.96 L598.25,65.96 L599.25,65.95 L600.24,65.95 L601.24,65.95 L602.23,65.95 L603.23,65.94 L604.22,65.94 L605.22,65.94 L606.21,65.94 L607.21,65.94 L608.20,65.93 L609.19,65.93 L610.19,65.93 L611.18,65.93 L612.18,65.93 L613.17,65.93 L614.17,65.92 L615.16,65.92 L616.16,65.92 L617.15,65.92 L618.15,65.92 L619.14,65.92 L620.14,65.92 L621.13,65.92 L622.13,65.92 L623.12,65.92 L624.11,65.91 L625.11,65.91 L626.10,65.91 L627.10,65.91 L628.09,65.91 L629.09,65.91 L630.08,65.91 L631.08,65.91 L632.07,65.91 L633.07,65.91 L634.06,65.91 L635.06,65.91 L636.05,65.91 L637.05,65.91 L638.04,65.91 L639.03,65.91 L640.03,65.91 L641.02,65.91 L642.02,65.91 L643.01,65.91 L644.01,65.90 L645.00,65.90 L646.00,65.90 L646.99,65.90 L647.99,65.90 L648.98,65.90 L649.98,65.90 L650.97,65.90 L651.97,65.90 L652.96,65.90 L653.95,65.90 L654.95,65.90 L655.94,65.90 L656.94,65.90 L657.93,65.90 L658.93,65.90 L659.92,65.90 L660.92,65.90 L661.91,65.90 L662.91,65.90 L663.90,65.90 L664.90,65.90 L665.89,65.90 L666.89,65.90 L667.88,65.90 L668.87,65.90 L669.87,65.90 L670.86,65.90 L671.86,65.90 L672.85,65.90 L673.85,65.90 L674.84,65.90 L675.84,65.90 L676.83,65.90 L677.83,65.90 L678.82,65.90 L679.82,65.90 L680.81,65.90 L681.81,65.90 L682.80,65.90 L683.79,65.90 L684.79,65.90 L685.78,65.90 L686.78,65.90 L687.77,65.90 L688.77,65.90 L689.76,65.90 L690.76,65.90 L691.75,65.90 L692.75,65.90 L693.74,65.90 L694.74,65.90 L695.73,65.90 L696.73,65.90 L697.72,65.90 L698.71,65.90 L699.71,65.90 L700.70,65.90 L701.70,65.90 L702.69,65.90 L703.69,65.90 L704.68,65.90 L705.68,65.90 L706.67,65.90 L707.67,65.90 L708.66,65.90 L709.66,65.90 L710.65,65.90 L711.65,65.90 L712.64,65.90 L713.63,65.90 L714.63,65.90 L715.62,65.90 L716.62,65.90 L717.61,65.90 L718.61,65.90 L719.60,65.90 L720.60,65.90 L721.59,65.90 L722.59,65.90 L723.58,65.90 L724.58,65.90 L725.57,65.90 L726.57,65.90 L727.56,65.90 L728.55,65.90 L729.55,65.90 L730.54,65.90 L731.54,65.90 L732.53,65.90 L733.53,65.90 L734.52,65.90 L735.52,65.90 L736.51,65.90 L737.51,65.90 L738.50,65.90 L739.50,65.90 L740.49,65.90 L741.49,65.90 L742.48,65.90 L743.47,65.90 L744.47,65.90 L745.46,65.90 L746.46,65.90 L747.20,65.90" fill="none" stroke="#00ff00" stroke-width="3.6" stroke-linecap="square" stroke-linejoin="round"/>
<path d="M19.20,487.60 L19.28,487.60 L20.21,487.60 L21.14,487.60 L22.08,487.60 L23.01,487.60 L23.94,487.60 L24.88,487.60 L25.81,487.60 L26.74,487.60 L27.68,487.60 L28.61,487.60 L29.54,487.60 L30.48,487.60 L31.41,487.60 L32.34,487.60 L33.28,487.60 L34.21,487.60 L35.14,487.60 L36.08,487.60 L37.01,487.60 L37.94,487.60 L38.88,487.60 L39.81,487.60 L40.74,487.60 L41.68,487.60 L42.61,487.60 L43.54,487.60 L44.48,487.60 L45.41,487.60 L46.34,487.60 L47.28,487.60 L48.21,487.60 L49.14,487.60 L50.08,487.60 L51.01,487.60 L51.94,487.60 L52.88,487.60 L53.81,487.60 L54.74,487.60 L55.68,487.60 L56.61,487.60 L57.54,487.60 L58.48,487.60 L59.41,487.60 L60.34,487.60 L61.28,487.60 L62.21,487.60 L63.14,487.60 L64.08,487.60 L65.01,487.60 L65.94,487.60 L66.88,487.60 L67.81,487.60 L68.74,487.60 L69.68,487.60 L70.61,487.60 L71.54,487.60 L72.48,487.60 L73.41,487.60 L74.34,487.60 L75.28,487.60 L76.21,487.60 L77.14,487.60 L78.08,487.60 L79.01,487.60 L79.94,487.60 L80.88,487.60 L81.81,487.60 L82.74,487.60 L83.68,487.60 L84.61,487.60 L85.54,487.60 L86.48,487.60 L87.41,487.60 L88.34,487.60 L89.28,487.60 L90.21,487.60 L91.14,487.60 L92.08,487.60 L93.01,487.60 L93.94,487.60 L94.88,487.60 L95.81,487.60 L96.74,487.60 L97.68,487.60 L98.61,487.60 L99.54,487.60 L100.48,487.60 L101.41,487.60 L102.34,487.60 L103.28,487.60 L104.21,487.60 L105.14,487.60 L106.08,487.60 L107.01,487.60 L107.94,487.60 L108.88,487.60 L109.81,487.60 L110.74,487.60 L111.68,487.60 L112.61,487.60 L113.54,487.60 L114.48,487.60 L115.41,487.60 L116.34,487.60 L117.28,487.60 L118.21,487.60 L119.14,487.60 L120.08,487.60 L121.01,487.60 L121.94,487.60 L122.88,487.60 L123.81,487.60 L124.74,487.60 L125.68,487.60 L126.61,487.60 L127.54,487.60 L128.48,487.60 L129.41,487.60 L130.34,487.60 L131.28,487.60 L132.21,487.60 L133.14,487.60 L134.08,487.60 L135.01,487.60 L135.94,487.60 L136.88,487.60 L137.81,487.60 L138.74,487.60 L139.68,487.60 L140.61,487.60 L141.54,487.60 L142.48,487.60 L143.41,487.60 L144.34,487.60 L145.28,487.60 L146.21,487.60 L147.14,487.60 L148.08,487.60 L149.01,487.60 L149.94,487.60 L150.88,487.60 L151.81,487.60 L152.74,487.60 L153.68,487.60 L154.61,487.60 L155.54,487.60 L156.48,487.60 L157.41,487.60 L158.34,487.60 L159.28,487.60 L160.21,487.60 L161.14,487.60 L162.08,487.60 L163.01,487.60 L163.94,487.60 L164.88,487.60 L165.81,487.60 L166.74,487.60 L167.68,487.60 L168.61,487.60 L169.54,487.60 L170.48,487.60 L171.41,487.60 L172.34,487.60 L173.28,487.60 L174.21,487.60 L175.14,487.60 L176.08,487.60 L177.01,487.60 L177.94,487.60 L178.88,487.60 L179.81,487.60 L180.74,487.60 L181.68,487.60 L182.61,487.60 L183.54,487.60 L184.48,487.60 L185.41,487.60 L186.34,487.60 L187.28,487.60 L188.21,487.60 L189.14,487.60 L190.08,487.60 L191.01,487.60 L191.94,487.60 L192.88,487.60 L193.81,487.60 L194.74,487.60 L195.68,487.60 L196.61,487.60 L197.54,487.60 L198.48,487.60 L199.41,487.60 L200.34,487.60 L201.28,487.60 L202.21,487.60 L203.14,487.60 L204.08,487.60 L205.01,487.60 L205.94,487.60 L206.88,487.60 L207.81,487.60 L208.74,487.60 L209.68,487.60 L210.61,487.60 L211.54,487.60 L212.48,487.60 L213.41,487.60 L214.34,487.60 L215.28,487.60 L216.21,487.60 L217.14,487.60 L218.08,487.60 L219.01,487.60 L219.94,487.60 L220.88,487.60 L221.81,487.60 L222.74,487.60 L223.68,487.60 L224.61,487.60 L225.54,487.60 L226.48,487.60 L227.41,487.60 L228.34,487.60 L229.28,487.60 L230.21,487.60 L231.14,487.60 L232.08,487.60 L233.01,487.60 L233.94,487.60 L234.88,487.60 L235.81,487.60 L236.74,487.60 L237.68,487.59 L238.61,487.59 L239.54,487.59 L240.48,487.59 L241.41,487.59 L242.34,487.59 L243.28,487.59 L244.21,487.59 L245.14,487.59 L246.08,487.59 L247.01,487.59 L247.94,487.59 L248.88,487.59 L249.81,487.59 L250.74,487.59 L251.68,487.59 L252.61,487.59 L253.54,487.59 L254.48,487.59 L255.41,487.59 L256.34,487.58 L257.28,487.58 L258.21,487.58 L259.14,487.58 L260.08,487.58 L261.01,487.58 L261.94,487.58 L262.88,487.58 L263.81,487.58 L264.74,487.58 L265.68,487.57 L266.61,487.57 L267.54,487.57 L268.48,487.57 L269.41,487.57 L270.34,487.57 L271.28,487.56 L272.21,487.56 L273.14,487.56 L274.08,487.56 L275.01,487.56 L275.94,487.55 L276.88,487.55 L277.81,487.55 L278.74,487.55 L279.68,487.54 L280.61,487.54 L281.54,487.54 L282.48,487.53 L283.41,487.53 L284.34,487.53 L285.28,487.52 L286.21,487.52 L287.14,487.51 L288.08,487.51 L289.01,487.50 L289.94,487.50 L290.88,487.49 L291.81,487.49 L292.74,487.48 L293.68,487.47 L294.61,487.47 L295.54,487.46 L296.48,487.45 L297.41,487.44 L298.34,487.43 L299.28,487.42 L300.21,487.42 L301.14,487.41 L302.08,487.39 L303.01,487.38 L303.94,487.37 L304.88,487.36 L305.81,487.35 L306.74,487.33 L307.68,487.32 L308.61,487.30 L309.54,487.29 L310.48,487.27 L311.41,487.25 L312.34,487.23 L313.28,487.21 L314.21,487.19 L315.14,487.17 L316.08,487.14 L317.01,487.12 L317.94,487.09 L318.88,487.06 L319.81,487.03 L320.74,487.00 L321.68,486.97 L322.61,486.94 L323.54,486.90 L324.48,486.86 L325.41,486.82 L326.34,486.78 L327.28,486.73 L328.21,486.69 L329.14,486.64 L330.08,486.58 L331.01,486.53 L331.94,486.47 L332.88,486.41 L333.81,486.34 L334.74,486.28 L335.68,486.20 L336.61,486.13 L337.54,486.05 L338.48,485.96 L339.41,485.87 L340.34,485.78 L341.28,485.68 L342.21,485.57 L343.14,485.46 L344.08,485.35 L345.01,485.22 L345.94,485.09 L346.88,484.96 L347.81,484.81 L348.74,484.66 L349.68,484.50 L350.61,484.34 L351.54,484.16 L352.48,483.97 L353.41,483.77 L354.34,483.57 L355.28,483.35 L356.21,483.12 L357.14,482.87 L358.08,482.62 L359.01,482.35 L359.94,482.07 L360.88,481.77 L361.81,481.45 L362.74,481.12 L363.68,480.77 L364.61,480.40 L365.54,480.02 L366.48,479.61 L367.41,479.18 L368.34,478.73 L369.28,478.25 L370.21,477.75 L371.14,477.23 L372.08,476.67 L373.01,476.09 L373.94,475.48 L374.88,474.83 L375.81,474.16 L376.74,473.44 L377.68,472.70 L378.61,471.91 L379.54,471.08 L380.48,470.22 L381.41,469.31 L382.34,468.35 L383.28,467.34 L384.21,466.29 L385.14,465.19 L386.08,464.03 L387.01,462.81 L387.94,461.54 L388.88,460.20 L389.81,458.80 L390.74,457.34 L391.68,455.81 L392.61,454.20 L393.54,452.53 L394.48,450.77 L395.41,448.94 L396.35,447.03 L397.28,445.03 L398.21,442.94 L399.15,440.77 L400.08,438.50 L401.01,436.14 L401.95,433.68 L402.88,431.12 L403.82,428.46 L404.75,425.70 L405.68,422.83 L406.62,419.85 L407.55,416.76 L408.49,413.56 L409.42,410.25 L410.36,406.83 L411.29,403.29 L412.23,399.63 L413.16,395.86 L414.10,391.97 L415.03,387.97 L415.97,383.86 L416.91,379.63 L417.84,375.29 L418.78,370.84 L419.72,366.28 L420.66,361.62 L421.60,356.86 L422.54,352.00 L423.48,347.05 L424.42,342.01 L425.37,336.88 L426.31,331.68 L427.26,326.40 L428.21,321.06 L429.16,315.66 L430.11,310.20 L431.06,304.70 L432.01,299.16 L432.97,293.58 L433.93,287.98 L434.89,282.37 L435.85,276.75 L436.81,271.13 L437.78,265.52 L438.75,259.92 L439.72,254.34 L440.69,248.80 L441.66,243.30 L442.64,237.84 L443.61,232.44 L444.59,227.10 L445.57,221.82 L446.55,216.62 L447.54,211.49 L448.52,206.45 L449.50,201.50 L450.49,196.64 L451.48,191.88 L452.46,187.22 L453.45,182.66 L454.44,178.21 L455.43,173.87 L456.42,169.64 L457.41,165.53 L458.41,161.53 L459.40,157.64 L460.39,153.87 L461.39,150.21 L462.38,146.67 L463.38,143.25 L464.38,139.94 L465.37,136.74 L466.37,133.65 L467.37,130.67 L468.37,127.80 L469.37,125.04 L470.38,122.38 L471.38,119.82 L472.38,117.36 L473.39,115.00 L474.39,112.73 L475.40,110.56 L476.41,108.47 L477.42,106.47 L478.43,104.56 L479.44,102.73 L480.45,100.97 L481.46,99.30 L482.47,97.69 L483.48,96.16 L484.50,94.70 L485.51,93.30 L486.53,91.96 L487.54,90.69 L488.56,89.47 L489.57,88.31 L490.59,87.21 L491.61,86.16 L492.62,85.15 L493.64,84.19 L494.66,83.28 L495.67,82.42 L496.69,81.59 L497.71,80.80 L498.73,80.06 L499.74,79.34 L500.76,78.67 L501.78,78.02 L502.80,77.41 L503.82,76.83 L504.83,76.27 L505.85,75.75 L506.87,75.25 L507.89,74.77 L508.91,74.32 L509.93,73.89 L510.95,73.48 L511.96,73.10 L512.98,72.73 L514.00,72.38 L515.02,72.05 L516.04,71.73 L517.06,71.43 L518.07,71.15 L519.09,70.88 L520.11,70.63 L521.13,70.38 L522.15,70.15 L523.17,69.93 L524.19,69.73 L525.21,69.53 L526.22,69.34 L527.24,69.16 L528.26,69.00 L529.28,68.84 L530.30,68.69 L531.32,68.54 L532.34,68.41 L533.35,68.28 L534.37,68.15 L535.39,68.04 L536.41,67.93 L537.43,67.82 L538.45,67.72 L539.47,67.63 L540.49,67.54 L541.50,67.45 L542.52,67.37 L543.54,67.30 L544.56,67.22 L545.58,67.16 L546.60,67.09 L547.62,67.03 L548.63,66.97 L549.65,66.92 L550.67,66.86 L551.69,66.81 L552.71,66.77 L553.73,66.72 L554.75,66.68 L555.77,66.64 L556.78,66.60 L557.80,66.56 L558.82,66.53 L559.84,66.50 L560.86,66.47 L561.88,66.44 L562.90,66.41 L563.91,66.38 L564.93,66.36 L565.95,66.33 L566.97,66.31 L567.99,66.29 L569.01,66.27 L570.03,66.25 L571.05,66.23 L572.06,66.21 L573.08,66.20 L574.10,66.18 L575.12,66.17 L576.14,66.15 L577.16,66.14 L578.18,66.13 L579.19,66.12 L580.21,66.11 L581.23,66.09 L582.25,66.08 L583.27,66.08 L584.29,66.07 L585.31,66.06 L586.33,66.05 L587.34,66.04 L588.36,66.03 L589.38,66.03 L590.40,66.02 L591.42,66.01 L592.44,66.01 L593.46,66.00 L594.47,66.00 L595.49,65.99 L596.51,65.99 L597.53,65.98 L598.55,65.98 L599.57,65.97 L600.59,65.97 L601.61,65.97 L602.62,65.96 L603.64,65.96 L604.66,65.96 L605.68,65.95 L606.70,65.95 L607.72,65.95 L608.74,65.95 L609.75,65.94 L610.77,65.94 L611.79,65.94 L612.81,65.94 L613.83,65.94 L614.85,65.93 L615.87,65.93 L616.89,65.93 L617.90,65.93 L618.92,65.93 L619.94,65.93 L620.96,65.92 L621.98,65.92 L623.00,65.92 L624.02,65.92 L625.03,65.92 L626.05,65.92 L627.07,65.92 L628.09,65.92 L629.11,65.92 L630.13,65.92 L631.15,65.91 L632.17,65.91 L633.18,65.91 L634.20,65.91 L635.22,65.91 L636.24,65.91 L637.26,65.91 L638.28,65.91 L639.30,65.91 L640.31,65.91 L641.33,65.91 L642.35,65.91 L643.37,65.91 L644.39,65.91 L645.41,65.91 L646.43,65.91 L647.45,65.91 L648.46,65.91 L649.48,65.91 L650.50,65.91 L651.52,65.90 L652.54,65.90 L653.56,65.90 L654.58,65.90 L655.59,65.90 L656.61,65.90 L657.63,65.90 L658.65,65.90 L659.67,65.90 L660.69,65.90 L661.71,65.90 L662.73,65.90 L663.74,65.90 L664.76,65.90 L665.78,65.90 L666.80,65.90 L667.82,65.90 L668.84,65.90 L669.86,65.90 L670.87,65.90 L671.89,65.90 L672.91,65.90 L673.93,65.90 L674.95,65.90 L675.97,65.90 L676.99,65.90 L678.01,65.90 L679.02,65.90 L680.04,65.90 L681.06,65.90 L682.08,65.90 L683.10,65.90 L684.12,65.90 L685.14,65.90 L686.15,65.90 L687.17,65.90 L688.19,65.90 L689.21,65.90 L690.23,65.90 L691.25,65.90 L692.27,65.90 L693.29,65.90 L694.30,65.90 L695.32,65.90 L696.34,65.90 L697.36,65.90 L698.38,65.90 L699.40,65.90 L700.42,65.90 L701.43,65.90 L702.45,65.90 L703.47,65.90 L704.49,65.90 L705.51,65.90 L706.53,65.90 L707.55,65.90 L708.57,65.90 L709.58,65.90 L710.60,65.90 L711.62,65.90 L712.64,65.90 L713.66,65.90 L714.68,65.90 L715.70,65.90 L716.71,65.90 L717.73,65.90 L718.75,65.90 L719.77,65.90 L720.79,65.90 L721.81,65.90 L722.83,65.90 L723.85,65.90 L724.86,65.90 L725.88,65.90 L726.90,65.90 L727.92,65.90 L728.94,65.90 L729.96,65.90 L730.98,65.90 L731.99,65.90 L733.01,65.90 L734.03,65.90 L735.05,65.90 L736.07,65.90 L737.09,65.90 L738.11,65.90 L739.13,65.90 L740.14,65.90 L741.16,65.90 L742.18,65.90 L743.20,65.90 L744.22,65.90 L745.24,65.90 L746.26,65.90 L747.20,65.90" fill="none" stroke="#800080" stroke-width="3.6" stroke-linecap="square" stroke-linejoin="round"/>
<line x1="18.0" x2="748.9" y1="65.9" y2="65.9" stroke="#8778b3" stroke-width="3.5" stroke-dasharray="12.5 5.05"/>
<line x1="18.0" x2="748.9" y1="487.70000000000005" y2="487.70000000000005" stroke="#c56e1a" stroke-width="3.5" stroke-dasharray="12.5 5.05"/>
<g stroke="#666666" stroke-width="0.55" fill="none">
<line x1="4.4" x2="761.9" y1="65.9" y2="65.9"/>
<line x1="383.5" x2="383.5" y1="42.3" y2="511.6"/>
<line x1="19.25" x2="19.25" y1="65.9" y2="60.10"/>
<line x1="55.65" x2="55.65" y1="65.9" y2="62.60"/>
<line x1="92.05" x2="92.05" y1="65.9" y2="62.60"/>
<line x1="128.45" x2="128.45" y1="65.9" y2="62.60"/>
<line x1="164.85" x2="164.85" y1="65.9" y2="62.60"/>
<line x1="201.25" x2="201.25" y1="65.9" y2="60.10"/>
<line x1="237.65" x2="237.65" y1="65.9" y2="62.60"/>
<line x1="274.05" x2="274.05" y1="65.9" y2="62.60"/>
<line x1="310.45" x2="310.45" y1="65.9" y2="62.60"/>
<line x1="346.85" x2="346.85" y1="65.9" y2="62.60"/>
<line x1="383.50" x2="383.50" y1="65.9" y2="60.10"/>
<line x1="419.65" x2="419.65" y1="65.9" y2="62.60"/>
<line x1="456.05" x2="456.05" y1="65.9" y2="62.60"/>
<line x1="492.45" x2="492.45" y1="65.9" y2="62.60"/>
<line x1="528.85" x2="528.85" y1="65.9" y2="62.60"/>
<line x1="565.25" x2="565.25" y1="65.9" y2="60.10"/>
<line x1="601.65" x2="601.65" y1="65.9" y2="62.60"/>
<line x1="638.05" x2="638.05" y1="65.9" y2="62.60"/>
<line x1="674.45" x2="674.45" y1="65.9" y2="62.60"/>
<line x1="710.85" x2="710.85" y1="65.9" y2="62.60"/>
<line x1="747.25" x2="747.25" y1="65.9" y2="60.10"/>
<line x1="383.5" x2="386.80" y1="50.54" y2="50.54"/>
<line x1="383.5" x2="389.30" y1="65.90" y2="65.90"/>
<line x1="383.5" x2="386.80" y1="81.26" y2="81.26"/>
<line x1="383.5" x2="386.80" y1="96.62" y2="96.62"/>
<line x1="383.5" x2="386.80" y1="111.98" y2="111.98"/>
<line x1="383.5" x2="386.80" y1="127.34" y2="127.34"/>
<line x1="383.5" x2="389.30" y1="142.70" y2="142.70"/>
<line x1="383.5" x2="386.80" y1="158.06" y2="158.06"/>
<line x1="383.5" x2="386.80" y1="173.42" y2="173.42"/>
<line x1="383.5" x2="386.80" y1="188.78" y2="188.78"/>
<line x1="383.5" x2="386.80" y1="204.14" y2="204.14"/>
<line x1="383.5" x2="389.30" y1="219.50" y2="219.50"/>
<line x1="383.5" x2="386.80" y1="234.86" y2="234.86"/>
<line x1="383.5" x2="386.80" y1="250.22" y2="250.22"/>
<line x1="383.5" x2="386.80" y1="265.58" y2="265.58"/>
<line x1="383.5" x2="386.80" y1="280.94" y2="280.94"/>
<line x1="383.5" x2="389.30" y1="296.30" y2="296.30"/>
<line x1="383.5" x2="386.80" y1="311.66" y2="311.66"/>
<line x1="383.5" x2="386.80" y1="327.02" y2="327.02"/>
<line x1="383.5" x2="386.80" y1="342.38" y2="342.38"/>
<line x1="383.5" x2="386.80" y1="357.74" y2="357.74"/>
<line x1="383.5" x2="389.30" y1="373.10" y2="373.10"/>
<line x1="383.5" x2="386.80" y1="388.46" y2="388.46"/>
<line x1="383.5" x2="386.80" y1="403.82" y2="403.82"/>
<line x1="383.5" x2="386.80" y1="419.18" y2="419.18"/>
<line x1="383.5" x2="386.80" y1="434.54" y2="434.54"/>
<line x1="383.5" x2="389.30" y1="449.90" y2="449.90"/>
<line x1="383.5" x2="386.80" y1="465.26" y2="465.26"/>
<line x1="383.5" x2="386.80" y1="480.62" y2="480.62"/>
<line x1="383.5" x2="386.80" y1="495.98" y2="495.98"/>
<line x1="383.5" x2="386.80" y1="511.34" y2="511.34"/>
</g>
<g font-family="'Liberation Sans', sans-serif" font-size="22.2px" fill="#5c5c5c" stroke="#5c5c5c" stroke-width="0.12">
<text x="-0.13 13.96 26.84" y="94.60 93.00 93.00">−20</text>
<text x="181.90 196.90 208.34" y="94.60 93.00 93.00">−10</text>
<rect x="198.01" y="91" width="4.31" height="3" fill="#fff" stroke="none"/>
<rect x="204.60" y="91" width="5.55" height="3" fill="#fff" stroke="none"/>
<text x="552.96 564.58" y="93.00 93.00">10</text>
<rect x="554.07" y="91" width="4.31" height="3" fill="#fff" stroke="none"/>
<rect x="560.66" y="91" width="5.55" height="3" fill="#fff" stroke="none"/>
<text x="733.87 746.58" y="93.00 93.00">20</text>
<text x="331.30 346.00 357.85 364.60" y="152.50 150.90 150.90 150.90">−0.1</text>
<rect x="365.71" y="149" width="4.31" height="3" fill="#fff" stroke="none"/>
<rect x="372.30" y="149" width="5.55" height="3" fill="#fff" stroke="none"/>
<text x="331.30 346.00 357.85 364.60" y="229.30 227.70 227.70 227.70">−0.2</text>
<text x="331.30 346.00 357.85 364.60" y="306.10 304.50 304.50 304.50">−0.3</text>
<text x="331.30 346.00 357.85 364.60" y="382.90 381.30 381.30 381.30">−0.4</text>
<text x="331.30 346.00 357.85 364.60" y="459.70 458.10 458.10 458.10">−0.5</text>
</g>
<g font-family="'Liberation Sans', sans-serif" fill="#5c5c5c" stroke="#5c5c5c" stroke-width="0.12">
<text x="779.8" y="74" font-size="22.6px" font-style="italic">r</text>
<text transform="translate(358.2,20.7) scale(1.15,1)" font-size="21.5px" font-style="italic">ϕ</text>
<text x="372.9" y="26.0" font-size="20.3px">1</text>
<text x="385.7" y="20.3" font-size="22.2px">(</text>
<text x="393.7" y="20.5" font-size="23.2px" font-style="italic">r</text>
<text x="402.4" y="20.3" font-size="22.2px">)</text>
<rect x="373.91" y="24" width="3.93" height="3" fill="#fff" stroke="none"/>
<rect x="379.95" y="24" width="5.08" height="3" fill="#fff" stroke="none"/>
</g>
</svg>
</body></html>
